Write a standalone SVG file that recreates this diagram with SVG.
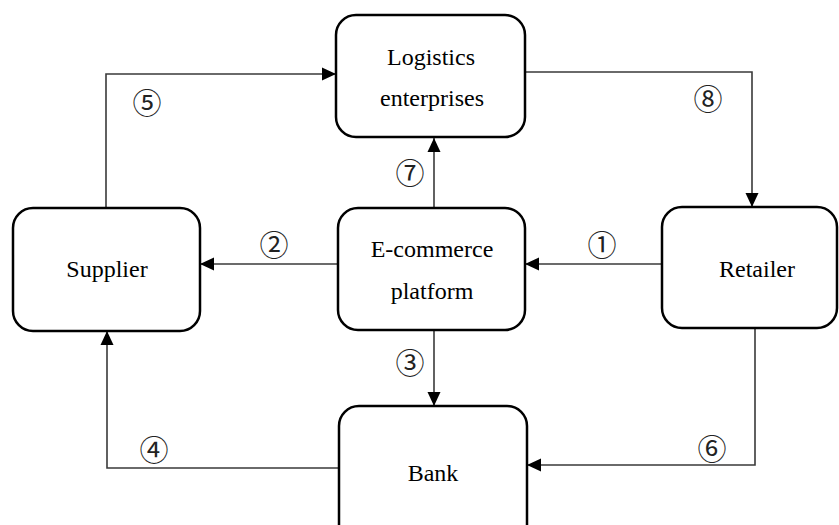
<svg xmlns="http://www.w3.org/2000/svg" width="839" height="525" viewBox="0 0 839 525">
<defs>
<style>
.box{fill:#fff;stroke:#000;stroke-width:2.5}
.lbl{font-family:"Liberation Serif","Times New Roman",serif;font-size:24px;fill:#000;text-anchor:middle}
.num{font-family:"Noto Sans CJK SC","DejaVu Sans",sans-serif;font-size:29px;fill:#222;text-anchor:middle;dominant-baseline:central}
.ln{fill:none;stroke:#3a3a3a;stroke-width:1.6}
</style>
<marker id="ah" viewBox="0 0 14 14" refX="14" refY="7" markerWidth="14" markerHeight="14" markerUnits="userSpaceOnUse" orient="auto">
<path d="M0,0.5 L14,7 L0,13.5 Z" fill="#000"/>
</marker>
</defs>
<rect width="839" height="525" fill="#fff"/>
<g id="connectors">
<path class="ln" d="M106,208 V74 H336" marker-end="url(#ah)"/>
<path class="ln" d="M525,72 H752 V207" marker-end="url(#ah)"/>
<path class="ln" d="M434,208 V138" marker-end="url(#ah)"/>
<path class="ln" d="M662,264 H525" marker-end="url(#ah)"/>
<path class="ln" d="M338,264 H200" marker-end="url(#ah)"/>
<path class="ln" d="M434,330 V406" marker-end="url(#ah)"/>
<path class="ln" d="M755,329 V465 H527" marker-end="url(#ah)"/>
<path class="ln" d="M339,468 H107 V331" marker-end="url(#ah)"/>
<text class="num" x="147" y="101">⑤</text>
<text class="num" x="708" y="97">⑧</text>
<text class="num" x="410" y="171">⑦</text>
<text class="num" x="274" y="243">②</text>
<text class="num" x="602" y="243">①</text>
<text class="num" x="410" y="361">③</text>
<text class="num" x="154" y="448">④</text>
<text class="num" x="712" y="447">⑥</text>
</g>
<g id="logistics">
<rect class="box" x="336" y="15" width="189" height="122" rx="20"/>
<text class="lbl" x="431" y="65">Logistics</text>
<text class="lbl" x="432" y="106">enterprises</text>
</g>
<g id="supplier">
<rect class="box" x="13" y="208" width="187" height="123" rx="20"/>
<text class="lbl" x="107" y="277">Supplier</text>
</g>
<g id="ecommerce">
<rect class="box" x="338" y="208" width="187" height="122" rx="20"/>
<text class="lbl" x="432" y="257">E-commerce</text>
<text class="lbl" x="432" y="299">platform</text>
</g>
<g id="retailer">
<rect class="box" x="662" y="207" width="175" height="121" rx="20"/>
<text class="lbl" x="757" y="277">Retailer</text>
</g>
<g id="bank">
<rect class="box" x="339" y="406" width="188" height="140" rx="20"/>
<text class="lbl" x="433" y="481">Bank</text>
</g>
</svg>
